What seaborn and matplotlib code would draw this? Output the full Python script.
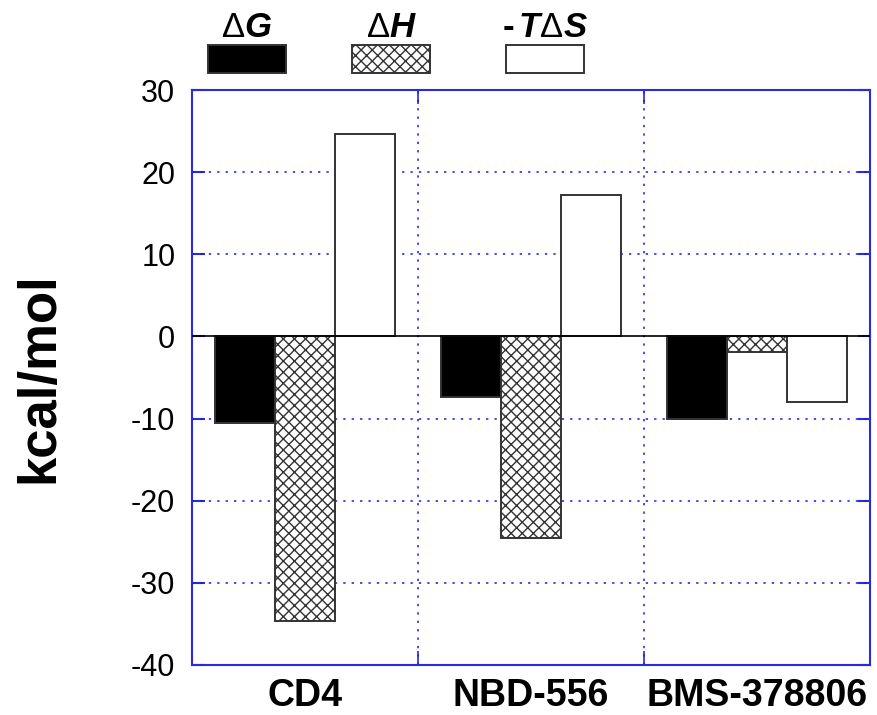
import matplotlib
matplotlib.use("Agg")
import matplotlib.pyplot as plt
from matplotlib.patches import Rectangle
import seaborn as sns
import pandas as pd

# Thermodynamic signatures of binding (kcal/mol)
ligands = ["CD4", "NBD-556", "BMS-378806"]
terms = ["dG", "dH", "-TdS"]
term_labels = [r"$\Delta\mathit{G}$", r"$\Delta\mathit{H}$", r"-$\,\mathit{T}\Delta\mathit{S}$"]
dG = [-10.5, -7.4, -10.0]
dH = [-34.6, -24.5, -1.9]
minus_TdS = [24.6, 17.2, -8.0]

yticks = [-40, -30, -20, -10, 0, 10, 20, 30]

df = pd.DataFrame({
    "ligand": ligands * 3,
    "term": [t for t in terms for _ in ligands],
    "value": dG + dH + minus_TdS,
})

sns.set_theme(style="white")
plt.rcParams["font.family"] = ["Liberation Sans", "DejaVu Sans"]
plt.rcParams["text.color"] = "black"
plt.rcParams["xtick.color"] = "black"
plt.rcParams["ytick.color"] = "black"
plt.rcParams["axes.labelcolor"] = "black"
plt.rcParams["mathtext.fontset"] = "custom"
plt.rcParams["mathtext.rm"] = "Liberation Sans"
plt.rcParams["mathtext.it"] = "Liberation Sans:bold:italic"
plt.rcParams["mathtext.bf"] = "Liberation Sans:bold"
plt.rcParams["hatch.linewidth"] = 1.0
plt.rcParams["hatch.color"] = "#222222"

blue = "#2a2ae0"
grid_blue = "#1a1ad8"

fig = plt.figure(figsize=(8.77, 7.15), dpi=100)
ax = fig.add_axes([192 / 877, 50 / 715, 678 / 877, 575 / 715])

sns.barplot(data=df, x="ligand", y="value", hue="term", order=ligands,
            hue_order=terms, width=0.8, ax=ax, legend=False,
            palette=["black", "white", "white"], saturation=1.0)

styles = [
    dict(facecolor="black", hatch=None),
    dict(facecolor="white", hatch="xxx"),
    dict(facecolor="white", hatch=None),
]
for container, st in zip(ax.containers, styles):
    for bar in container:
        bar.set_facecolor(st["facecolor"])
        bar.set_edgecolor("#333333")
        bar.set_linewidth(1.4)
        if st["hatch"]:
            bar.set_hatch(st["hatch"])
        bar.set_zorder(3)

ax.set_xlim(-0.5, 2.5)
ax.set_ylim(-40, 30)
ax.set_yticks(yticks)
ax.set_yticklabels([str(v) for v in yticks], fontsize=22)
ax.set_xticks(range(len(ligands)))
ax.set_xticklabels(ligands, fontsize=27, fontweight="bold")
ax.set_xticks([0.5, 1.5], minor=True)
ax.set_xlabel("")
ax.set_ylabel("kcal/mol", fontsize=38, fontweight="bold", labelpad=48)

ax.tick_params(axis="x", which="major", length=0, pad=9)
ax.tick_params(axis="x", which="minor", direction="in", length=10,
               color=blue, width=1.2, top=True, bottom=True)
ax.tick_params(axis="y", direction="in", length=9, color=blue, width=1.5,
               left=True, right=True, pad=12)

# dotted blue grid behind the bars
for y in [-30, -20, -10, 10, 20]:
    ax.axhline(y, color=grid_blue, lw=1.1, ls=(0, (1.5, 4)), zorder=1)
for x in [0.5, 1.5]:
    ax.axvline(x, color=grid_blue, lw=1.1, ls=(0, (1.5, 4)), zorder=1)
ax.axhline(0, color="black", lw=1.2, zorder=4)

for sp in ax.spines.values():
    sp.set_color(blue)
    sp.set_linewidth(1.5)
    sp.set_visible(True)

# key above the plot: symbol over swatch
key_x = [208, 352, 506]
for i, (x0, lab) in enumerate(zip(key_x, term_labels)):
    st = styles[i]
    rect = Rectangle((x0 / 877, 1 - 73 / 715), 78 / 877, 28 / 715,
                     transform=fig.transFigure, facecolor=st["facecolor"],
                     edgecolor="#333333", linewidth=1.4,
                     hatch=st["hatch"])
    fig.add_artist(rect)
    fig.text((x0 + 39) / 877, 1 - 37 / 715, lab, ha="center", va="baseline",
             fontsize=25, fontweight="bold")

fig.savefig("out.png", dpi=100, facecolor="white")
